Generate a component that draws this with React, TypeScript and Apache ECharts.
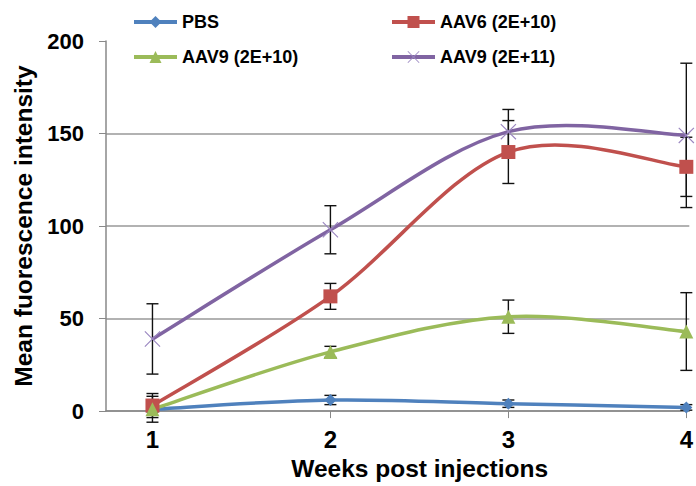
import React, { useEffect, useRef } from "react";
import * as echarts from "echarts";

const weeks = [1, 2, 3, 4];
const seriesNames = ["PBS", "AAV6 (2E+10)", "AAV9 (2E+10)", "AAV9 (2E+11)"];
const pbs = [1, 6, 4, 2];
const pbsErr = [1.5, 2.5, 2, 1.5];
const aav6 = [3, 62, 140, 132];
const aav6Err = [6.5, 7, 17, 16];
const aav9Low = [1, 32, 51, 43];
const aav9LowErr = [7, 3, 9, 21];
const aav9High = [39, 98, 151, 149];
const aav9HighErr = [19, 13, 12, 39];
const yTicks = [0, 50, 100, 150, 200];

const colors = ["#4F81BD", "#C0504D", "#9BBB59", "#8064A2"];
const markerColors = ["#4F81BD", "#C0504D", "#9BBB59", "#9a86c0"];
const symbols = [
  "diamond",
  "rect",
  "triangle",
  "path://M0,1 L1,0 L10,9 L19,0 L20,1 L11,10 L20,19 L19,20 L10,11 L1,20 L0,19 L9,10 Z",
];
const symbolSizes = [12, 14, 14, 16];
const values = [pbs, aav6, aav9Low, aav9High];
const errs = [pbsErr, aav6Err, aav9LowErr, aav9HighErr];

const FONT = "'Liberation Sans', Arial, sans-serif";

export default function App() {
  const ref = useRef<HTMLDivElement>(null);
  useEffect(() => {
    if (!ref.current) return;
    const chart = echarts.init(ref.current, null, { renderer: "svg" });
    const errData: number[][] = [];
    values.forEach((vals, si) => {
      vals.forEach((v, i) => {
        errData.push([weeks[i], v - errs[si][i], v + errs[si][i]]);
      });
    });
    // Excel-like smoothed curves (Catmull-Rom as cubic Bezier) drawn through the axes' scales
    const curveSeries = seriesNames.map((name, si) => ({
      type: "custom",
      name: name + " curve",
      data: weeks.map((w, i) => [w, values[si][i]]),
      encode: { x: 0, y: 1 },
      z: 2,
      silent: true,
      renderItem: (params: any, api: any) => {
        const i = params.dataIndex;
        const n = weeks.length;
        if (i >= n - 1) return null;
        const pts = weeks.map((w, k) => api.coord([w, values[si][k]]));
        const p0 = pts[Math.max(i - 1, 0)];
        const p1 = pts[i];
        const p2 = pts[i + 1];
        const p3 = pts[Math.min(i + 2, n - 1)];
        return {
          type: "bezierCurve",
          shape: {
            x1: p1[0],
            y1: p1[1],
            cpx1: p1[0] + (p2[0] - p0[0]) / 6,
            cpy1: p1[1] + (p2[1] - p0[1]) / 6,
            cpx2: p2[0] - (p3[0] - p1[0]) / 6,
            cpy2: p2[1] - (p3[1] - p1[1]) / 6,
            x2: p2[0],
            y2: p2[1],
          },
          style: { stroke: colors[si], lineWidth: 3.5, fill: "none" },
        };
      },
    }));
    const markerSeries = seriesNames.map((name, si) => ({
      name,
      type: "line",
      data: weeks.map((w, i) => [w, values[si][i]]),
      symbol: symbols[si],
      symbolSize: symbolSizes[si],
      showAllSymbol: true,
      lineStyle: { color: colors[si], width: 3.5, opacity: 0 },
      itemStyle: { color: markerColors[si] },
      z: 3,
    }));
    const legendPos = [
      { left: 132, top: 13 },
      { left: 390, top: 13 },
      { left: 132, top: 48 },
      { left: 390, top: 48 },
    ];
    const legends = seriesNames.map((name, si) => ({
      data: [name],
      left: legendPos[si].left,
      top: legendPos[si].top,
      padding: 0,
      itemWidth: 43,
      itemHeight: 15,
      lineStyle: { color: colors[si], width: 4, opacity: 1 },
      textStyle: { fontSize: 18, fontWeight: "bold", color: "#000", fontFamily: FONT },
      selectedMode: false,
    }));
    chart.setOption({
      animation: false,
      textStyle: { fontFamily: FONT },
      grid: { left: 106, right: 0, top: 41, bottom: 67, containLabel: false },
      legend: legends,
      xAxis: {
        type: "value",
        min: 0.7389,
        max: 4.0167,
        axisLine: { show: true, lineStyle: { color: "#888", width: 1.5 } },
        axisTick: { show: true, customValues: weeks, length: 7, lineStyle: { color: "#888" } },
        axisLabel: {
          customValues: weeks,
          fontSize: 24,
          fontWeight: "bold",
          color: "#000",
          margin: 16,
          fontFamily: FONT,
        },
        splitLine: { show: false },
        name: "Weeks post injections",
        nameLocation: "middle",
        nameGap: 43,
        nameTextStyle: {
          fontSize: 24.5,
          fontWeight: "bold",
          color: "#000",
          fontFamily: FONT,
          padding: [0, 0, 0, 44],
        },
      },
      yAxis: {
        type: "value",
        min: yTicks[0],
        max: yTicks[yTicks.length - 1],
        interval: 50,
        axisLine: { show: true, lineStyle: { color: "#888", width: 1.5 } },
        axisTick: { show: true, length: 7, lineStyle: { color: "#888" } },
        axisLabel: {
          fontSize: 22,
          fontWeight: "bold",
          color: "#000",
          margin: 22,
          fontFamily: FONT,
        },
        splitLine: { show: true, showMaxLine: false, lineStyle: { color: "#999", width: 1.5 } },
        name: "Mean fuorescence intensity",
        nameLocation: "middle",
        nameGap: 66,
        nameRotate: 90,
        nameTextStyle: { fontSize: 24.5, fontWeight: "bold", color: "#000", fontFamily: FONT },
      },
      series: [
        {
          type: "custom",
          name: "errors",
          data: errData,
          encode: { x: 0, y: [1, 2] },
          z: 1,
          silent: true,
          renderItem: (params: any, api: any) => {
            const x = api.value(0);
            const lo = api.value(1);
            const hi = api.value(2);
            const p1 = api.coord([x, hi]);
            const p2 = api.coord([x, lo]);
            const w = 6;
            const st = { stroke: "#111", lineWidth: 1.4 };
            return {
              type: "group",
              children: [
                { type: "line", shape: { x1: p1[0], y1: p1[1], x2: p2[0], y2: p2[1] }, style: st },
                { type: "line", shape: { x1: p1[0] - w, y1: p1[1], x2: p1[0] + w, y2: p1[1] }, style: st },
                { type: "line", shape: { x1: p2[0] - w, y1: p2[1], x2: p2[0] + w, y2: p2[1] }, style: st },
              ],
            };
          },
        },
        ...curveSeries,
        ...markerSeries,
      ],
    });
    return () => chart.dispose();
  }, []);
  return (
    <div
      ref={ref}
      style={{ position: "fixed", left: 0, top: 0, width: 696, height: 486, background: "#fff" }}
    />
  );
}
